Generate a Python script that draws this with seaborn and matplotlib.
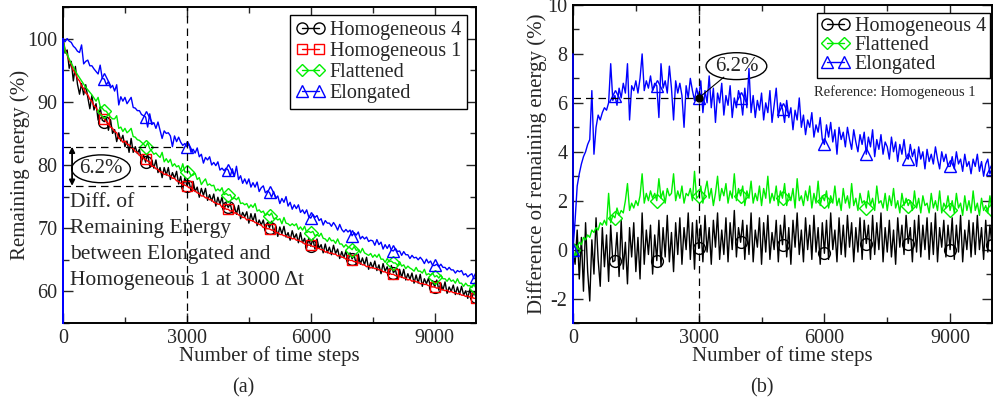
import numpy as np
import matplotlib
matplotlib.use('Agg')
import matplotlib.pyplot as plt
from matplotlib.lines import Line2D
from matplotlib.patches import Ellipse
from matplotlib.ticker import MultipleLocator
import seaborn as sns

# ---- data ----
steps = np.arange(0, 10001, 50)

# remaining energy of the reference run, Homogeneous 1 (%)
hom1_energy = [
    100.0, 98.3, 97.4, 96.5, 95.9, 95.0, 94.5, 93.7, 93.3, 92.5,
    92.1, 91.4, 91.1, 90.4, 90.1, 89.4, 89.1, 88.4, 88.2, 87.6,
    87.3, 86.8, 86.6, 86.0, 85.8, 85.3, 85.1, 84.2, 84.1, 83.6,
    83.8, 83.3, 83.2, 82.7, 82.6, 82.1, 82.0, 81.5, 81.5, 81.0,
    80.9, 80.6, 80.5, 79.8, 79.8, 79.4, 79.3, 78.9, 78.9, 78.5,
    78.6, 78.3, 78.3, 77.9, 77.9, 77.5, 77.4, 77.1, 77.0, 76.8,
    76.7, 76.4, 76.4, 76.0, 75.9, 75.6, 75.5, 75.1, 75.1, 74.8,
    74.8, 74.5, 74.5, 74.1, 74.0, 73.8, 73.8, 73.3, 73.3, 73.0,
    73.0, 72.7, 72.8, 72.4, 72.4, 72.1, 72.0, 71.7, 71.7, 71.3,
    71.4, 71.2, 71.2, 70.9, 70.8, 70.6, 70.5, 70.1, 70.2, 69.9,
    69.9, 69.7, 69.7, 69.3, 69.3, 69.0, 69.0, 68.8, 68.8, 68.5,
    68.6, 68.3, 68.4, 68.1, 68.1, 67.9, 67.8, 67.5, 67.5, 67.3,
    67.3, 67.1, 67.1, 66.8, 66.8, 66.6, 66.6, 66.2, 66.3, 66.0,
    66.1, 65.9, 65.9, 65.6, 65.7, 65.4, 65.4, 65.1, 65.1, 64.9,
    64.9, 64.7, 64.7, 64.5, 64.5, 64.2, 64.2, 63.9, 64.0, 63.7,
    63.8, 63.6, 63.6, 63.4, 63.4, 63.1, 63.1, 62.9, 62.9, 62.7,
    62.7, 62.5, 62.5, 62.3, 62.3, 62.1, 62.1, 61.8, 61.9, 61.6,
    61.7, 61.5, 61.5, 61.2, 61.3, 61.1, 61.1, 60.9, 60.9, 60.7,
    60.7, 60.5, 60.6, 60.3, 60.3, 60.1, 60.2, 59.9, 60.0, 59.8,
    59.8, 59.6, 59.7, 59.4, 59.4, 59.2, 59.3, 59.1, 59.1, 58.9,
    58.9,
]

# differences to Homogeneous 1 (percentage points)
hom4_diff = [
    0.0, -0.6, 0.8, -1.2, 0.5, -1.7, 1.1, -0.9, -2.1, 0.4,
    -1.0, 1.3, -0.4, -1.5, 0.9, -0.7, 0.6, -1.3, 1.0, -0.5,
    -0.45, 0.7, -1.1, 1.2, -0.8, 0.3, -1.4, 0.9, -0.3, 1.1,
    -0.9, 0.5, -1.2, 1.5, -0.6, 0.8, -0.2, 1.0, -1.0, 0.6,
    -0.45, 1.2, -0.7, 0.9, -0.3, 1.4, -0.5, 0.7, -0.9, 1.1,
    -0.2, 1.3, -0.6, 0.9, 0.0, 1.5, -0.4, 1.1, -0.8, 1.2,
    0.05, 1.0, -0.5, 1.4, -0.1, 0.9, -0.6, 1.2, 0.1, 1.5,
    -0.4, 0.8, -0.2, 1.3, -0.5, 1.1, 0.0, 1.6, -0.3, 0.9,
    0.3, 1.2, -0.4, 1.0, -0.2, 1.5, -0.5, 0.8, 0.1, 1.3,
    -0.6, 1.1, -0.1, 1.4, -0.4, 0.7, 0.0, 1.2, -0.5, 1.0,
    0.2, 1.4, -0.3, 0.9, -0.6, 1.2, 0.1, 1.5, -0.2, 0.8,
    -0.5, 1.3, 0.0, 1.0, -0.4, 1.4, -0.1, 0.9, -0.6, 1.1,
    -0.15, 1.2, -0.4, 1.5, 0.0, 0.8, -0.5, 1.3, -0.2, 1.0,
    -0.3, 1.4, 0.1, 1.1, -0.5, 0.9, -0.1, 1.3, -0.4, 1.2,
    0.25, 1.0, -0.4, 1.4, -0.2, 1.1, 0.0, 1.5, -0.5, 0.9,
    -0.1, 1.2, -0.3, 0.8, -0.6, 1.3, 0.1, 1.0, -0.2, 1.4,
    0.25, 0.9, -0.5, 1.2, -0.1, 1.4, -0.3, 1.0, 0.0, 1.3,
    -0.4, 1.1, -0.2, 1.5, -0.5, 0.9, 0.1, 1.2, -0.3, 1.0,
    0.0, 1.3, -0.4, 1.0, -0.1, 1.4, -0.5, 0.8, 0.0, 1.2,
    -0.3, 1.1, -0.2, 1.4, 0.0, 0.9, -0.4, 1.2, -0.1, 1.0,
    0.2,
]

flat_diff = [
    0.0, -0.3, 0.1, 0.3, 0.2, 0.5, 0.4, 0.6, 0.5, 0.8,
    0.7, 0.9, 0.8, 1.1, 1.0, 1.2, 1.0, 2.3, 1.1, 1.4,
    1.3, 1.7, 1.4, 1.6, 1.5, 2.0, 2.7, 1.6, 1.9, 1.7,
    2.0, 1.8, 2.2, 3.1, 1.9, 2.3, 2.0, 2.4, 2.1, 2.3,
    2.0, 2.9, 2.1, 2.4, 1.9, 2.5, 2.2, 2.3, 3.1, 2.0,
    2.4, 2.1, 2.6, 1.9, 2.3, 2.2, 2.5, 2.0, 3.2, 2.1,
    2.2, 2.6, 1.9, 2.4, 2.8, 2.1, 2.5, 1.8, 2.3, 3.0,
    2.0, 2.5, 2.2, 2.7, 1.9, 2.4, 2.1, 3.1, 2.0, 2.5,
    2.2, 2.6, 1.8, 2.4, 2.1, 2.8, 1.9, 2.3, 2.0, 2.6,
    1.8, 2.5, 2.1, 3.0, 1.9, 2.3, 2.0, 2.6, 1.8, 2.4,
    2.1, 2.7, 1.8, 2.3, 2.0, 2.5, 1.7, 2.9, 2.0, 2.2,
    1.8, 2.4, 2.0, 2.6, 1.7, 2.3, 1.9, 2.8, 1.8, 2.2,
    2.0, 2.4, 1.7, 2.2, 1.9, 2.6, 1.8, 2.1, 1.6, 2.5,
    1.9, 2.2, 1.7, 2.7, 1.8, 2.1, 1.6, 2.3, 1.9, 2.0,
    1.7, 2.4, 1.8, 2.1, 1.6, 2.6, 1.9, 2.0, 1.7, 2.3,
    1.6, 2.2, 1.8, 2.5, 1.7, 2.0, 1.5, 2.3, 1.8, 2.1,
    1.8, 2.0, 1.6, 2.4, 1.7, 2.1, 1.5, 2.2, 1.8, 1.9,
    1.5, 2.3, 1.7, 2.0, 1.6, 2.4, 1.5, 1.9, 1.7, 2.2,
    1.6, 2.0, 1.5, 2.3, 1.7, 1.9, 1.4, 2.2, 1.6, 2.0,
    1.5, 2.4, 1.6, 1.9, 1.4, 2.1, 1.6, 1.8, 1.5, 2.2,
    1.6,
]

elong_diff = [
    0.0, 1.2, 2.6, 3.1, 3.5, 3.8, 4.0, 4.3, 4.5, 6.5,
    3.9, 5.0, 5.5, 5.3, 5.6, 5.8, 5.7, 6.0, 7.6, 6.1,
    6.3, 5.9, 6.6, 6.2, 6.8, 6.4, 7.6, 5.3, 6.7, 6.5,
    6.9, 6.4, 7.0, 8.0, 6.5, 6.9, 6.6, 7.1, 6.5, 6.8,
    6.7, 5.4, 7.6, 6.6, 6.9, 6.4, 7.5, 6.6, 5.3, 6.9,
    6.4, 6.8, 6.3, 5.0, 6.7, 6.2, 7.0, 6.5, 6.1, 6.6,
    6.2, 6.9, 5.6, 6.5, 6.0, 7.1, 5.8, 6.6, 5.2, 6.4,
    6.0, 6.8, 5.5, 6.3, 5.9, 6.7, 5.4, 6.2, 5.8, 6.5,
    6.2, 5.5, 6.6, 5.8, 7.4, 5.6, 6.3, 5.4, 6.1, 5.7,
    6.4, 5.3, 6.0, 5.6, 6.5, 5.2, 5.9, 6.6, 5.4, 6.0,
    5.75, 5.2, 6.1, 5.4, 5.8, 4.9, 5.7, 5.3, 6.2, 5.0,
    5.5, 4.7, 5.3, 5.0, 5.6, 4.6, 5.1, 4.8, 5.4, 4.5,
    4.3, 5.1, 4.6, 5.2, 4.4, 4.9, 3.9, 5.0, 4.5, 4.8,
    4.2, 5.0, 4.5, 4.1, 4.9, 4.4, 4.0, 4.7, 4.3, 4.8,
    3.9, 4.6, 4.2, 4.9, 3.8, 4.5, 4.1, 4.7, 3.9, 4.4,
    4.2, 3.7, 4.6, 4.0, 4.4, 3.6, 4.3, 3.9, 4.5, 3.8,
    3.7, 4.3, 3.8, 4.1, 3.4, 4.2, 3.7, 4.0, 3.3, 4.1,
    3.6, 3.9, 3.5, 4.2, 3.7, 3.3, 4.0, 3.6, 3.9, 3.4,
    3.4, 3.8, 3.3, 4.0, 3.5, 3.7, 3.2, 3.9, 3.4, 3.6,
    3.1, 3.7, 3.4, 3.9, 3.2, 3.6, 3.0, 3.5, 3.7, 3.1,
    3.3,
]

# start-up glitch of the elongated run (both records at step 0);
# the low value runs off the bottom of each panel
elong_head_energy = [100.0, 55.0]
elong_head_diff = [8.0, -3.0]

labels = ['Homogeneous 4', 'Homogeneous 1', 'Flattened', 'Elongated']
colors = ['black', '#ff0000', '#00ee00', '#0000ff']
markers = ['o', 's', 'D', '^']
msizes = [8.5, 7.5, 7, 8.5]

hom1 = np.array(hom1_energy)
energy = {
    'Homogeneous 4': hom1 + np.array(hom4_diff),
    'Homogeneous 1': hom1,
    'Flattened': hom1 + np.array(flat_diff),
    'Elongated': hom1 + np.array(elong_diff),
}
diffs = {
    'Homogeneous 4': np.array(hom4_diff),
    'Flattened': np.array(flat_diff),
    'Elongated': np.array(elong_diff),
}
i3000 = int(np.where(steps == 3000)[0][0])

# ---- style ----
sns.set_style('ticks')
plt.rcParams['font.family'] = ['Liberation Serif', 'DejaVu Serif']
plt.rcParams['axes.unicode_minus'] = False

fig = plt.figure(figsize=(9.93, 4.03), dpi=100)
ax1 = fig.add_axes([63 / 993, 80 / 403, 413 / 993, 316 / 403])
ax2 = fig.add_axes([573 / 993, 80 / 403, 419 / 993, 318 / 403])

dash = (0, (6, 4))


def draw(ax, name, y, head=None, first_mark=0):
    k = labels.index(name)
    c = colors[k]
    x = steps
    start = first_mark
    if head is not None:
        x = np.concatenate([[0] * len(head), steps])
        y = np.concatenate([head, y])
        start += len(head)
    sns.lineplot(x=x, y=y, ax=ax, color=c, lw=1.0, marker=markers[k],
                 markersize=msizes[k], markerfacecolor='none', markeredgecolor=c,
                 markeredgewidth=1.0, markevery=(start, 20),
                 estimator=None, sort=False, legend=False)
    if head is not None:
        # the step-0 glitch sits on top of the left spine
        sns.lineplot(x=x[:len(head) + 1], y=y[:len(head) + 1], ax=ax, color=c,
                     lw=1.2, zorder=2.6, clip_on=False,
                     estimator=None, sort=False, legend=False)


def handle(name):
    k = labels.index(name)
    return Line2D([], [], color=colors[k], lw=1.0, marker=markers[k],
                  markersize=msizes[k] - 0.5, markerfacecolor='none',
                  markeredgecolor=colors[k])


def style_axes(ax):
    ax.set_xlim(0, 10000)
    ax.xaxis.set_major_locator(MultipleLocator(3000))
    ax.xaxis.set_minor_locator(MultipleLocator(1500))
    ax.tick_params(which='both', direction='in', top=True, right=True,
                   labelsize=14.5, pad=4)
    ax.tick_params(which='major', length=7, width=1)
    ax.tick_params(which='minor', length=4, width=1)
    for s in ax.spines.values():
        s.set_linewidth(1.4)
        s.set_color('black')
    ax.set_xlabel('Number of time steps', fontsize=15, labelpad=-1)


# ---- (a) remaining energy ----
for name in labels:
    if name == 'Elongated':
        draw(ax1, name, energy[name], head=elong_head_energy, first_mark=20)
    else:
        draw(ax1, name, energy[name], first_mark=20)

style_axes(ax1)
ax1.set_ylim(55, 105)
ax1.yaxis.set_major_locator(MultipleLocator(10))
ax1.yaxis.set_minor_locator(MultipleLocator(5))
ax1.set_ylabel('Remaining energy (%)', fontsize=15, labelpad=-2)

e_top = energy['Elongated'][i3000]
e_bot = energy['Homogeneous 1'][i3000]
ax1.axvline(3000, color='black', lw=0.9, ls=dash)
ax1.plot([0, 3000], [e_top, e_top], color='black', lw=0.9, ls=dash)
ax1.plot([0, 3000], [e_bot, e_bot], color='black', lw=0.9, ls=dash)
ax1.annotate('', xy=(220, e_top), xytext=(220, e_bot),
             arrowprops=dict(arrowstyle='<|-|>', color='black', lw=1.3,
                             mutation_scale=8, shrinkA=0, shrinkB=0))
ax1.add_patch(Ellipse((920, 79.4), 1420, 4.4, fc='white', ec='black', lw=1.0))
ax1.text(920, 79.4, f'{e_top - e_bot:.1f}%', ha='center', va='center', fontsize=15)
ax1.text(170, 75.6, 'Diff. of\nRemaining Energy\nbetween Elongated and\n'
         'Homogeneous 1 at 3000 \u0394t',
         ha='left', va='top', fontsize=15.5, linespacing=1.5)

leg1 = ax1.legend([handle(n) for n in labels], labels, loc='upper right',
                  bbox_to_anchor=(0.978, 0.975), borderaxespad=0, numpoints=2,
                  fontsize=14.5, handlelength=1.4, handletextpad=0.25,
                  labelspacing=0.1, borderpad=0.3, fancybox=False,
                  framealpha=1, edgecolor='black')
leg1.get_frame().set_linewidth(1.0)

# ---- (b) difference of remaining energy ----
for name in ['Homogeneous 4', 'Flattened', 'Elongated']:
    if name == 'Elongated':
        draw(ax2, name, diffs[name], head=elong_head_diff)
    else:
        draw(ax2, name, diffs[name])

style_axes(ax2)
ax2.set_ylim(-3, 10)
ax2.yaxis.set_major_locator(MultipleLocator(2))
ax2.yaxis.set_minor_locator(MultipleLocator(1))
ax2.set_ylabel('Difference of remaining energy (%)', fontsize=15, labelpad=0)

d3000 = diffs['Elongated'][i3000]
ax2.axvline(3000, color='black', lw=0.9, ls=dash)
ax2.plot([0, 3000], [d3000, d3000], color='black', lw=0.9, ls=dash)
ax2.plot([3000, 3600], [d3000, 7.05], color='black', lw=0.8)
ax2.plot([3000], [d3000], marker='o', color='black', ms=5)
ax2.add_patch(Ellipse((3900, 7.5), 1450, 1.1, fc='white', ec='black', lw=1.0))
ax2.text(3900, 7.5, f'{d3000:.1f}%', ha='center', va='center', fontsize=15)

order = ['Homogeneous 4', 'Flattened', 'Elongated']
leg2 = ax2.legend([handle(n) for n in order], order, loc='upper right',
                  bbox_to_anchor=(0.995, 0.975), borderaxespad=0, numpoints=2,
                  fontsize=14.5, handlelength=1.4, handletextpad=0.25,
                  labelspacing=0.0, borderpad=0.2, fancybox=False,
                  framealpha=1, edgecolor='black')
leg2.get_frame().set_linewidth(1.0)
ax2.text(0.768, 0.725, 'Reference: Homogeneous 1', transform=ax2.transAxes,
         ha='center', va='center', fontsize=10.5)

fig.text(243 / 993, 1 - 388 / 403, '(a)', ha='center', va='center', fontsize=14.5)
fig.text(762 / 993, 1 - 388 / 403, '(b)', ha='center', va='center', fontsize=14.5)

fig.savefig('out.png', dpi=100)
